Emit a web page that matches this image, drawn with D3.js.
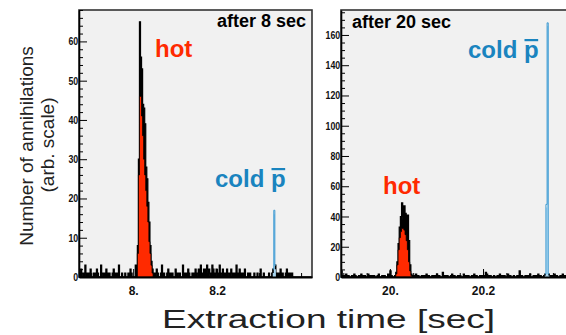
<!DOCTYPE html>
<html>
<head>
<meta charset="utf-8">
<script src="https://cdn.jsdelivr.net/npm/d3@7"></script>
<style>
    body { margin: 0; background: #fff; }
    svg { display: block; font-family: "Liberation Sans", Arial, Helvetica, sans-serif; }
</style>
</head>
<body>
<svg id="chart" width="566" height="335"></svg>
<script>
// histogram bin width in seconds
const BIN_WIDTH = 0.0025;

// left panel: after 8 sec
const leftStart = 7.87;
const leftCounts = [
    1,0,2,1,0,1,3,0,1,0,
    1,2,0,0,1,0,1,2,1,0,
    0,3,1,0,1,0,2,0,1,1,
    0,0,1,2,0,1,0,1,3,0,
    0,1,0,0,1,0,0,1,0,2,
    1,0,0,0,3,1,8,30,65,56,
    53,44,43,39,28,25,19,14,8,4,
    2,0,1,0,2,1,0,0,1,3,
    0,1,0,0,1,2,0,1,0,1,
    0,0,2,1,0,1,1,0,0,3,
    1,0,1,0,2,1,0,0,1,0,
    1,2,0,1,2,1,3,1,0,2,
    1,2,3,1,2,0,1,3,2,1,
    0,2,1,1,3,0,1,2,0,1,
    0,2,1,0,1,2,0,1,0,1,
    3,1,0,2,0,1,0,1,2,0,
    0,1,0,1,0,0,0,1,0,0,
    1,0,0,2,0,0,1,0,0,0,
    0,1,0,0,1,2,17,3,1,0,
    1,0,2,0,1,0,0,1,2,1,
    0,1,0,1,0,0,0,0,0,0,
    0,0,0,0,0,0,0,0,0,0,
    0,0
];
const leftHotFirstBin = 56;
const leftHotFill = [6,26,46,46,41,36,30,26,22,18,14,9,6,3,1];
const leftColdFirstBin = 185;
const leftColdFill = [1,16,2];

// right panel: after 20 sec
const rightStart = 19.895;
const rightCounts = [
    4,1,0,1,2,0,1,0,0,1,
    0,2,1,0,0,1,0,2,0,1,
    1,0,0,2,1,0,1,0,1,0,
    0,1,2,0,0,1,0,1,0,0,
    2,1,4,1,0,0,1,3,10,22,
    33,40,49,38,47,42,36,41,24,8,
    2,0,1,0,2,0,1,0,0,1,
    0,1,0,2,0,1,0,0,1,0,
    1,0,2,0,1,0,0,3,0,1,
    0,1,0,0,1,2,0,1,0,0,
    1,0,1,0,0,2,0,1,0,1,
    0,0,1,0,2,0,1,0,0,1,
    0,1,0,1,3,2,1,0,1,0,
    0,1,0,0,1,0,2,0,1,0,
    1,0,0,2,0,1,0,0,1,0,
    0,1,0,4,0,1,0,0,1,0,
    1,0,2,0,0,1,0,1,0,2,
    0,1,0,0,1,2,48,168,2,1,
    0,1,0,2,0,1,0,0,1,0,
    2,0,1,0,0,1,0,1
];
const rightHotFirstBin = 47;
const rightHotFill = [2,8,18,26,30,32,32,31,28,24,18,10,4,1];
const rightColdFirstBin = 175;
const rightColdFill = [1,46,166,1];

const HOT = "#ff2a00";
const COLD = "#1a84bf";
const COLD_LINE = "#2f93cf";
const COLD_FILL = "#a9d6f0";

const SVG = d3.select("#chart");
const Y0 = 277, Y1 = 10;

const panels = [
    {
        id: "l", x0: 79, x1: 312, xDomain: [7.871, 8.426], yMax: 68,
        yMajor: 10, yMinor: 2, xMajor: [8, 8.2],
        start: leftStart, counts: leftCounts,
        hotBin: leftHotFirstBin, hotFill: leftHotFill,
        coldBin: leftColdFirstBin, coldFill: leftColdFill
    },
    {
        id: "r", x0: 341, x1: 572, xDomain: [19.895, 20.391], yMax: 176.5,
        yMajor: 20, yMinor: 5, xMajor: [20, 20.2],
        start: rightStart, counts: rightCounts,
        hotBin: rightHotFirstBin, hotFill: rightHotFill,
        coldBin: rightColdFirstBin, coldFill: rightColdFill
    }
];

const defs = SVG.append("defs");

panels.forEach(p => {
    const x = d3.scaleLinear().domain(p.xDomain).range([p.x0, p.x1]);
    const y = d3.scaleLinear().domain([0, p.yMax]).range([Y0, Y1]);

    defs.append("clipPath").attr("id", "clip-" + p.id)
        .append("rect")
        .attr("x", p.x0).attr("y", Y1)
        .attr("width", p.x1 - p.x0).attr("height", Y0 - Y1);

    SVG.append("rect")
        .attr("x", p.x0).attr("y", Y1)
        .attr("width", p.x1 - p.x0).attr("height", Y0 - Y1)
        .attr("fill", "#f1f1f1")
        .attr("stroke", "#333")
        .attr("stroke-width", 1.6);

    const g = SVG.append("g").attr("clip-path", `url(#clip-${p.id})`);

    // bins -> step points (left edge of each bin, plus closing edge)
    const toPoints = (first, vals) => {
        const pts = vals.map((v, i) => [p.start + (first + i) * BIN_WIDTH, v]);
        pts.push([p.start + (first + vals.length) * BIN_WIDTH, vals[vals.length - 1]]);
        return pts;
    };

    const area = d3.area().curve(d3.curveStepAfter)
        .x(d => x(d[0])).y0(y(0)).y1(d => y(d[1]));
    const line = d3.line().curve(d3.curveStepAfter)
        .x(d => x(d[0])).y(d => y(d[1]));

    // measured histogram, solid black (cold bins left out, drawn in blue)
    const blackCounts = p.counts.map((v, i) =>
        i >= p.coldBin + 1 && i < p.coldBin + p.coldFill.length - 1 ? 0 : v);
    g.append("path")
        .attr("d", area(toPoints(0, blackCounts)))
        .attr("fill", "#000")
        .attr("stroke", "#000")
        .attr("stroke-width", 1.2);

    // hot component
    g.append("path")
        .attr("d", area(toPoints(p.hotBin, p.hotFill)))
        .attr("fill", HOT)
        .attr("stroke", "#000")
        .attr("stroke-width", 0.8);

    // cold component
    g.append("path")
        .attr("d", area(toPoints(p.coldBin, p.coldFill)))
        .attr("fill", COLD_FILL);

    const coldData = p.counts.slice(p.coldBin, p.coldBin + p.coldFill.length);
    g.append("path")
        .attr("d", line(toPoints(p.coldBin, coldData)))
        .attr("fill", "none")
        .attr("stroke", COLD_LINE)
        .attr("stroke-width", 0.9);

    // y axis: majors and minors, ticks pointing inward
    const majors = d3.range(0, p.yMax + 0.001, p.yMajor);
    const minors = d3.range(0, p.yMax + 0.001, p.yMinor).filter(v => v % p.yMajor !== 0);

    SVG.append("g")
        .attr("transform", `translate(${p.x0},0)`)
        .call(d3.axisLeft(y).tickValues(minors).tickSize(-4).tickSizeOuter(0).tickFormat(""))
        .call(a => a.select(".domain").remove());

    const yAxis = SVG.append("g")
        .attr("transform", `translate(${p.x0},0)`)
        .call(d3.axisLeft(y).tickValues(majors).tickSize(-8).tickSizeOuter(0).tickPadding(1));
    yAxis.select(".domain").attr("stroke", "#000").attr("stroke-width", 1.6);
    yAxis.selectAll("text")
        .attr("font-family", "'Liberation Sans', Arial, sans-serif")
        .attr("font-weight", "bold")
        .attr("font-size", 11)
        .attr("fill", "#111")
        .attr("transform", "scale(0.8,1)");

    // x axis
    const xMinors = d3.range(Math.ceil(p.xDomain[0] / 0.05) * 0.05, p.xDomain[1], 0.05)
        .filter(v => !p.xMajor.some(m => Math.abs(m - v) < 1e-6));
    SVG.append("g")
        .attr("transform", `translate(0,${Y0})`)
        .call(d3.axisBottom(x).tickValues(xMinors).tickSize(-4).tickSizeOuter(0).tickFormat(""))
        .call(a => a.select(".domain").remove());

    const xAxis = SVG.append("g")
        .attr("transform", `translate(0,${Y0})`)
        .call(d3.axisBottom(x).tickValues(p.xMajor).tickSize(-8).tickSizeOuter(0).tickPadding(9)
            .tickFormat(d => Number.isInteger(d) ? d + "." : d3.format(".1f")(d)));
    xAxis.select(".domain").attr("stroke", "#000").attr("stroke-width", 1.8);
    xAxis.selectAll("text")
        .attr("font-family", "'Liberation Sans', Arial, sans-serif")
        .attr("font-weight", "bold")
        .attr("font-size", 12)
        .attr("fill", "#111");
});

// panel annotations
function label(txt, xPos, yPos, size, color, anchor) {
    return SVG.append("text")
        .attr("x", xPos).attr("y", yPos)
        .attr("font-size", size)
        .attr("font-weight", "bold")
        .attr("fill", color)
        .attr("text-anchor", anchor || "start")
        .text(txt);
}

function coldLabel(xPos, yPos) {
    const t = label("cold p", xPos, yPos, 24, COLD);
    const n = t.node();
    const s = n.getStartPositionOfChar(5).x;
    const e = n.getEndPositionOfChar(5).x;
    SVG.append("rect")
        .attr("x", s + 0.5).attr("y", yPos - 19)
        .attr("width", e - s - 1).attr("height", 2.2)
        .attr("fill", COLD);
}

label("after 8 sec", 306, 27, 18, "#000", "end");
label("hot", 155, 57, 24, HOT);
coldLabel(215, 187);

label("after 20 sec", 352, 28, 18, "#000");
coldLabel(468, 58);
label("hot", 383, 194, 24, HOT);

// axis titles
SVG.append("text")
    .attr("transform", "translate(33,146) rotate(-90)")
    .attr("text-anchor", "middle")
    .attr("font-size", 19)
    .attr("fill", "#222")
    .text("Number of annihilations");

SVG.append("text")
    .attr("transform", "translate(54,145) rotate(-90)")
    .attr("text-anchor", "middle")
    .attr("font-size", 19)
    .attr("fill", "#222")
    .text("(arb. scale)");

SVG.append("text")
    .attr("x", 162).attr("y", 328)
    .attr("font-size", 25)
    .attr("fill", "#222")
    .attr("textLength", 333)
    .attr("lengthAdjust", "spacingAndGlyphs")
    .text("Extraction time [sec]");
</script>
</body>
</html>
